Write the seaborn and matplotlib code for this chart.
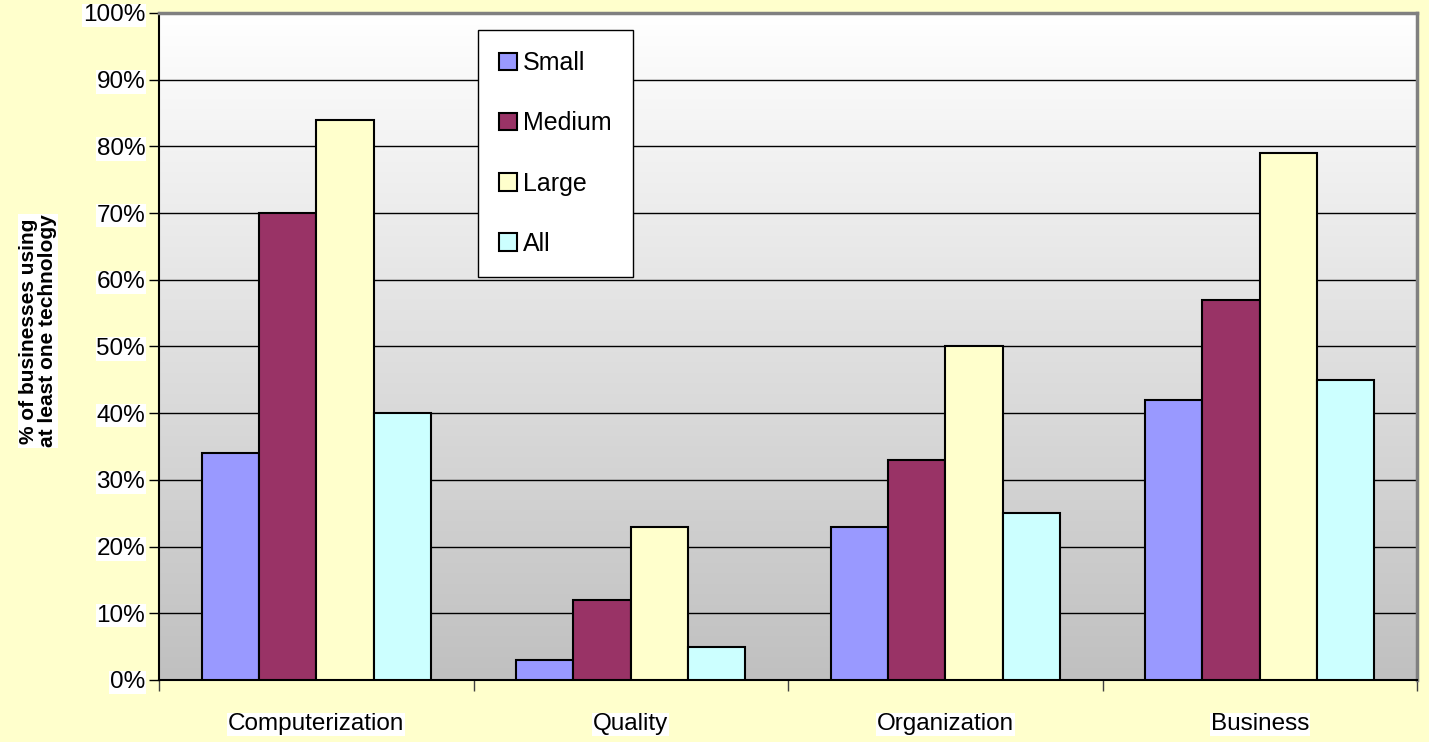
import numpy as np
import pandas as pd
import seaborn as sns
import matplotlib.pyplot as plt
from matplotlib.colors import LinearSegmentedColormap
from matplotlib.ticker import PercentFormatter

categories = ['Computerization', 'Quality', 'Organization', 'Business']
sizes = ['Small', 'Medium', 'Large', 'All']
small = [34, 3, 23, 42]
medium = [70, 12, 33, 57]
large = [84, 23, 50, 79]
all_sizes = [40, 5, 25, 45]
colors = ['#9999FF', '#993366', '#FFFFCC', '#CCFFFF']

df = pd.DataFrame({
    'category': categories * 4,
    'size': [s for s in sizes for _ in categories],
    'value': small + medium + large + all_sizes,
})

sns.set_style('white')
plt.rcParams['font.family'] = ['Liberation Sans', 'DejaVu Sans']
plt.rcParams['text.color'] = 'black'
plt.rcParams['xtick.color'] = 'black'
plt.rcParams['ytick.color'] = 'black'
plt.rcParams['axes.labelcolor'] = 'black'

fig = plt.figure(figsize=(14.29, 7.42), dpi=100, facecolor='#FFFFCC')
ax = fig.add_axes([0.1113, 0.0836, 0.8803, 0.8989])

# gradient plot area: white at top, grey at bottom
grad = LinearSegmentedColormap.from_list('g', ['#C0C0C0', '#FFFFFF'])
ax.imshow(np.linspace(0, 1, 256)[:, None], extent=[0, 1, 0, 1], transform=ax.transAxes,
          cmap=grad, aspect='auto', origin='lower', zorder=0)

sns.barplot(data=df, x='category', y='value', hue='size', palette=colors,
            width=0.729, gap=0, edgecolor='black', linewidth=1.5, ax=ax,
            saturation=1, zorder=3)

ax.set_ylim(0, 100)
ax.set_xlim(-0.5, 3.5)
ax.set_yticks(range(0, 101, 10))
ax.yaxis.set_major_formatter(PercentFormatter(decimals=0))
for y in range(10, 100, 10):
    ax.axhline(y, color='black', lw=1, zorder=1)

ax.set_xticks(range(4))
ax.set_xticks([-0.5, 0.5, 1.5, 2.5, 3.5], minor=True)
ax.tick_params(axis='x', which='major', length=0, pad=24, labelsize=17.5)
ax.tick_params(axis='x', which='minor', length=8, width=1, color='#404040', direction='out')
ax.tick_params(axis='y', length=7, width=1, color='black', direction='out', pad=3, labelsize=17.5)
ax.xaxis.set_ticks_position('bottom')
ax.yaxis.set_ticks_position('left')

for lbl in ax.get_xticklabels() + ax.get_yticklabels():
    lbl.set_bbox(dict(facecolor='white', edgecolor='none', pad=0.5))

ax.set_xlabel('')
ax.set_ylabel('')
fig.text(38 / 1429, 0.554, '% of businesses using\nat least one technology', fontsize=15,
         fontweight='bold', linespacing=1.0, rotation=90, ha='center', va='center',
         bbox=dict(facecolor='white', edgecolor='none', pad=0.5))

ax.spines['left'].set_color('black')
ax.spines['left'].set_linewidth(1.5)
ax.spines['bottom'].set_color('black')
ax.spines['bottom'].set_linewidth(1.5)
for s in ['top', 'right']:
    ax.spines[s].set_color('#808080')
    ax.spines[s].set_linewidth(2.5)

handles, labels = ax.get_legend_handles_labels()
leg = ax.legend(handles, labels, loc='upper left', bbox_to_anchor=(0.2536, 0.9745),
                frameon=True, fancybox=False, shadow=False, fontsize=18,
                handlelength=0.7, handleheight=0.7, handletextpad=0.25,
                labelspacing=1.45, borderpad=0.85, borderaxespad=0)
leg.get_frame().set_facecolor('white')
leg.get_frame().set_edgecolor('black')
leg.get_frame().set_linewidth(1)
leg.get_frame().set_alpha(1)
for h in leg.legend_handles:
    h.set_edgecolor('black')
    h.set_linewidth(1.5)

fig.savefig('out.png', dpi=100, facecolor=fig.get_facecolor())
